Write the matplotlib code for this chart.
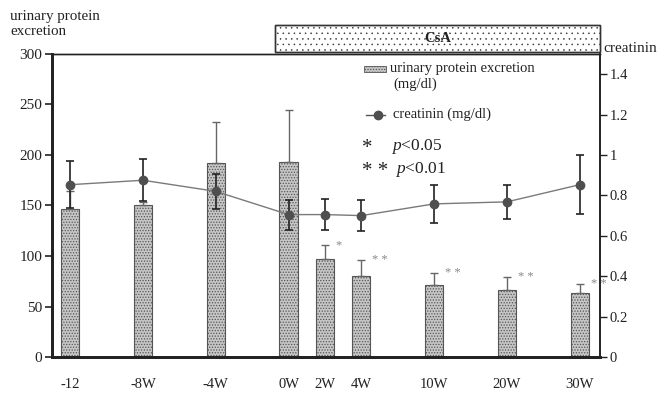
import matplotlib
matplotlib.use('Agg')
import matplotlib.pyplot as plt
from matplotlib.patches import Rectangle
from matplotlib.lines import Line2D

plt.rcParams['font.family'] = ['Liberation Serif', 'DejaVu Serif']
plt.rcParams['mathtext.fontset'] = 'custom'
plt.rcParams['mathtext.rm'] = 'Liberation Serif'
plt.rcParams['mathtext.it'] = 'Liberation Serif:italic'
plt.rcParams['hatch.linewidth'] = 0.6

# data
weeks = ['-12', '-8W', '-4W', '0W', '2W', '4W', '10W', '20W', '30W']
protein = [147, 150, 192, 193, 97, 80.5, 71, 66, 63]
protein_err = [17, 3, 41, 52, 14, 16, 12, 13, 9.5]
creat = [0.853, 0.875, 0.82, 0.705, 0.705, 0.70, 0.758, 0.768, 0.853]
creat_err = [0.116, 0.104, 0.085, 0.074, 0.075, 0.076, 0.093, 0.083, 0.145]
sig = ['', '', '', '', '*', '* *', '* *', '* *', '* *']

# uneven spacing of the time points on the axis
xpos = [0, 2, 4, 6, 7, 8, 10, 12, 14]

fig = plt.figure(figsize=(6.58, 4.05), dpi=100)
ax = fig.add_axes([0.079, 0.1185, 0.833, 0.7482])
ax2 = ax.twinx()

bar_face = '#c6c6c6'
bar_edge = '#555555'
ax.bar(xpos, protein, width=0.5, color=bar_face, edgecolor=bar_edge,
       hatch='......', linewidth=0.8, zorder=2)
ax.errorbar(xpos, protein, yerr=[[0] * len(protein), protein_err], fmt='none',
            ecolor='#666666', elinewidth=1.0, capsize=3, capthick=1.0, zorder=3)
for x, v, e, s in zip(xpos, protein, protein_err, sig):
    if s:
        ax.text(x + 0.3, v + e, s, fontsize=9, color='#888888',
                ha='left', va='center', zorder=4)

ax2.errorbar(xpos, creat, yerr=creat_err, fmt='none', ecolor='#222222',
             elinewidth=1.2, capsize=3, capthick=1.2, zorder=3)
ax2.plot(xpos, creat, color='#7a7a7a', linewidth=1.0, marker='o',
         markersize=6, markerfacecolor='#4f4f4f', markeredgecolor='#4f4f4f',
         zorder=4)

ax.set_xlim(-0.5, 14.56)
ax.set_ylim(0, 300)
ax2.set_ylim(0, 1.5)
ax.set_xticks(xpos)
ax.set_xticklabels(weeks)
ax.set_yticks(range(0, 301, 50))
ax2.set_yticks([0, 0.2, 0.4, 0.6, 0.8, 1, 1.2, 1.4])
ax2.set_yticklabels(['0', '0.2', '0.4', '0.6', '0.8', '1', '1.2', '1.4'])

ax.tick_params(axis='x', length=0, pad=15, labelsize=10.5, colors='#222222')
ax.tick_params(axis='y', length=5, width=1.2, labelsize=11, colors='#222222', pad=2)
ax2.tick_params(axis='y', length=5, width=1.0, labelsize=10.5, colors='#222222', pad=2)

for a in (ax, ax2):
    a.spines['left'].set_linewidth(2.0)
    a.spines['bottom'].set_linewidth(2.0)
    a.spines['top'].set_linewidth(1.0)
    a.spines['right'].set_linewidth(1.2)
    for sp in a.spines.values():
        sp.set_color('#222222')

# axis titles
fig.text(10 / 658, 1 - 24 / 405, 'urinary protein\nexcretion', fontsize=10.8,
         ha='left', va='center', linespacing=1.25, color='#222222')
fig.text(603 / 658, 1 - 48 / 405, 'creatinin', fontsize=11,
         ha='left', va='center', color='#222222')

# CsA treatment box
box = Rectangle((0.407, 1.0066), 0.593, 0.089, transform=ax.transAxes,
                facecolor='white', edgecolor='#333333', hatch='...',
                linewidth=1.0, clip_on=False)
ax.add_patch(box)
box.set_hatch_linewidth(0.35)
ax.add_patch(Rectangle((0.407, 1.0066), 0.593, 0.089, transform=ax.transAxes,
                       facecolor='none', edgecolor='#333333', linewidth=1.0,
                       clip_on=False))
ax.text(0.7035, 1.051, 'CsA', transform=ax.transAxes, fontsize=10.5,
        fontweight='bold', ha='center', va='center', color='#222222')

# legend
ax.add_patch(Rectangle((0.570, 0.939), 0.040, 0.023, transform=ax.transAxes,
                       facecolor=bar_face, edgecolor=bar_edge, hatch='......',
                       linewidth=0.6, clip_on=False))
ax.text(0.617, 0.951, 'urinary protein excretion', transform=ax.transAxes,
        fontsize=10.5, ha='left', va='center', color='#222222')
ax.text(0.622, 0.900, '(mg/dl)', transform=ax.transAxes,
        fontsize=10.5, ha='left', va='center', color='#222222')
ax.add_line(Line2D([0.572, 0.608], [0.8, 0.8], transform=ax.transAxes,
                   color='#555555', linewidth=1.0))
ax.add_line(Line2D([0.595], [0.8], transform=ax.transAxes, marker='o',
                   markersize=6, color='#4f4f4f'))
ax.text(0.622, 0.8, 'creatinin (mg/dl)', transform=ax.transAxes,
        fontsize=10.5, ha='left', va='center', color='#222222')

ax.text(0.565, 0.687, '*', transform=ax.transAxes, fontsize=15,
        ha='left', va='center', color='#222222')
ax.text(0.618, 0.695, '$p$<0.05', transform=ax.transAxes, fontsize=12.5,
        ha='left', va='center', color='#222222')
ax.text(0.565, 0.612, '* *', transform=ax.transAxes, fontsize=15,
        ha='left', va='center', color='#222222')
ax.text(0.625, 0.620, '$p$<0.01', transform=ax.transAxes, fontsize=12.5,
        ha='left', va='center', color='#222222')

fig.savefig('out.png', dpi=100)
